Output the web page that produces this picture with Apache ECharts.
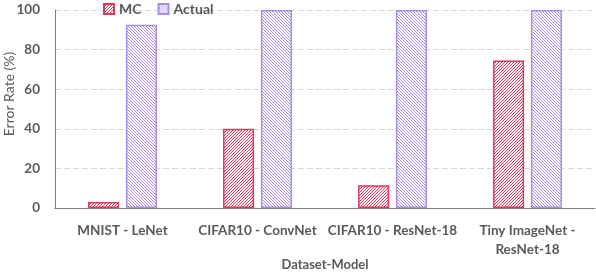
<!DOCTYPE html>
<html><head><meta charset="utf-8">
<script src="https://cdn.jsdelivr.net/npm/echarts@6/dist/echarts.min.js"></script>
<style>html,body{margin:0;padding:0;background:#fff}#c{width:596px;height:272px}</style>
</head><body><div id="c"></div>
<script>
const categories = ['MNIST - LeNet', 'CIFAR10 - ConvNet', 'CIFAR10 - ResNet-18', 'Tiny ImageNet -\nResNet-18'];
const mcValues = [3, 40, 11.5, 74.5];
const actualValues = [92.5, 100, 100, 100];
const yTicks = [0, 20, 40, 60, 80, 100];

function hatch(color, dir) {
  const s = 3;
  const c = document.createElement('canvas');
  c.width = s; c.height = s;
  const g = c.getContext('2d');
  g.fillStyle = '#fff'; g.fillRect(0, 0, s, s);
  g.strokeStyle = color; g.lineWidth = 1;
  g.beginPath();
  if (dir > 0) {
    g.moveTo(0, s); g.lineTo(s, 0);
    g.moveTo(-1, 1); g.lineTo(1, -1);
    g.moveTo(s - 1, s + 1); g.lineTo(s + 1, s - 1);
  } else {
    g.moveTo(0, 0); g.lineTo(s, s);
    g.moveTo(-1, s - 1); g.lineTo(1, s + 1);
    g.moveTo(s - 1, -1); g.lineTo(s + 1, 1);
  }
  g.stroke();
  return { image: c, repeat: 'repeat' };
}
const red = '#e2365d', purple = '#a98ce6';
const font = 'Lato, "Open Sans", sans-serif';
const chart = echarts.init(document.getElementById('c'));
chart.setOption({
  animation: false,
  textStyle: { fontFamily: font },
  legend: {
    top: 2, left: 103, padding: 0, itemWidth: 10, itemHeight: 10, itemGap: 16, itemTextGap: 4,
    textStyle: { fontSize: 14, color: '#595959', fontWeight: 'bold', fontFamily: font },
    data: [{ name: 'MC', icon: 'rect' }, { name: 'Actual', icon: 'rect' }]
  },
  grid: { left: 55, right: 1, top: 10, bottom: 64, containLabel: false, outerBoundsMode: 'none' },
  xAxis: {
    type: 'category', data: categories,
    name: 'Dataset-Model', nameLocation: 'middle', nameGap: 50, nameMoveOverlap: false,
    nameTextStyle: { fontSize: 13, color: '#595959', fontWeight: 'bold', fontFamily: font },
    axisLine: { lineStyle: { color: '#7f7f7f', width: 1 } },
    axisTick: { show: false },
    axisLabel: { fontSize: 13.5, color: '#595959', fontWeight: 'bold', margin: 13, lineHeight: 19, interval: 0 }
  },
  yAxis: {
    type: 'value', min: 0, max: 100, interval: 20,
    name: 'Error Rate (%)', nameLocation: 'middle', nameGap: 39, nameMoveOverlap: false,
    nameTextStyle: { fontSize: 14, color: '#595959', fontFamily: font, padding: [0, 0, 0, 30] },
    axisLine: { show: true, lineStyle: { color: '#7f7f7f', width: 1 } },
    axisTick: { show: false },
    axisLabel: { fontSize: 13.5, color: '#595959', fontWeight: 'bold', margin: 15,
      formatter: v => yTicks.includes(v) ? String(v) : '' },
    splitLine: { lineStyle: { color: '#d9d9d9', type: [6, 3] } }
  },
  series: [
    { name: 'MC', type: 'bar', data: mcValues, barWidth: '23%', barGap: '22%',
      itemStyle: { color: hatch(red, 1), borderColor: red, borderWidth: 1.5 } },
    { name: 'Actual', type: 'bar', data: actualValues, barWidth: '23%',
      itemStyle: { color: hatch(purple, -1), borderColor: purple, borderWidth: 1.5 } }
  ]
});
</script></body></html>
